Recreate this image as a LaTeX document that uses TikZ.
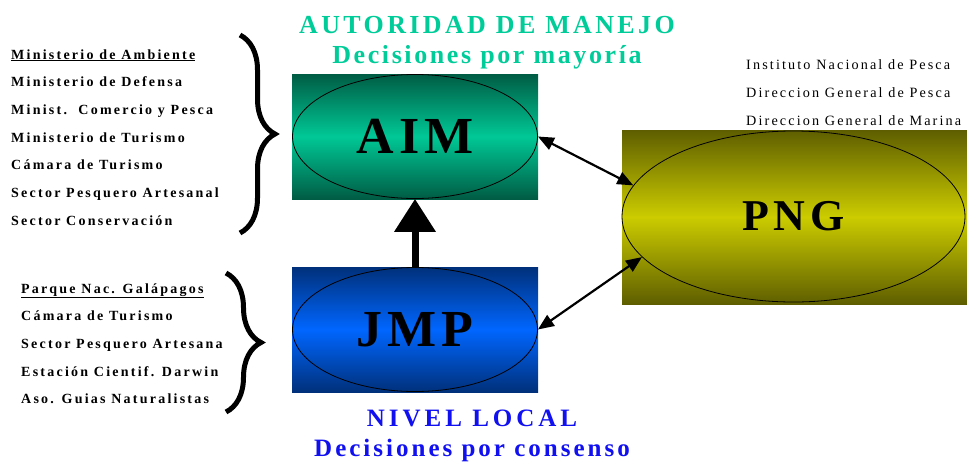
\documentclass[tikz,border=0pt]{standalone}
\usepackage{fontspec}
\setmainfont{Liberation Serif}
\newfontfamily\listfont[LetterSpace=16]{Liberation Serif}
\newfontfamily\instfont[LetterSpace=15]{Liberation Serif}
\newfontfamily\headfont[LetterSpace=13]{Liberation Serif}
\newfontfamily\subfont[LetterSpace=10]{Liberation Serif}
\newfontfamily\nivelfont[LetterSpace=16]{Liberation Serif}
\newfontfamily\consfont[LetterSpace=12]{Liberation Serif}
\newfontfamily\bigfont[LetterSpace=10]{Liberation Serif}
\usepackage{xcolor}
\usepackage{tikz}
\usetikzlibrary{shapes,calc}
\usetikzlibrary{positioning}
\usetikzlibrary{arrows.meta}
\usetikzlibrary{decorations.pathreplacing}

\definecolor{aimdark}{RGB}{0,92,68}
\definecolor{aimlight}{RGB}{0,200,150}
\definecolor{jmpdark}{RGB}{0,48,122}
\definecolor{jmplight}{RGB}{0,102,255}
\definecolor{pngdark}{RGB}{94,94,0}
\definecolor{pnglight}{RGB}{204,204,0}
\definecolor{titleteal}{RGB}{0,204,153}
\definecolor{titleblue}{RGB}{16,16,240}

\newcommand{\uline}[1]{\underline{#1}}

\begin{document}
\begin{tikzpicture}[x=1pt,y=-1pt,
	box/.style={rectangle,inner sep=0pt},
	oval/.style={ellipse,draw,line width=0.8pt,inner sep=0pt,font=\bigfont\bfseries\fontsize{52}{52}\selectfont},
	member/.style={anchor=base west,inner sep=0pt,font=\listfont\bfseries\fontsize{14}{16}\selectfont},
	inst/.style={anchor=base west,inner sep=0pt,font=\instfont\fontsize{14.2}{16}\selectfont},
	dbl/.style={{Triangle[length=16pt,width=13pt]}-{Triangle[length=16pt,width=13pt]},line width=2.2pt},
	bigbrace/.style={decorate,decoration={brace,amplitude=35pt},line width=5pt}]
	
	\useasboundingbox (0,0) rectangle (967,461);
	
	% boxes
	\node[box,minimum width=246pt,minimum height=125pt,top color=aimdark,bottom color=aimdark,middle color=aimlight] (aimbox) at (415,136.5) {};
	\node[box,minimum width=246pt,minimum height=125pt,top color=jmpdark,bottom color=jmpdark,middle color=jmplight] (jmpbox) at (415,329.5) {};
	\node[box,minimum width=345pt,minimum height=174pt,top color=pngdark,bottom color=pngdark,middle color=pnglight] (pngbox) at (794.5,217) {};
	
	% ellipses
	\node[oval,minimum width=245pt,minimum height=124pt] (aim) at (aimbox) {AIM};
	\node[oval,minimum width=245pt,minimum height=124pt] (jmp) at (jmpbox) {JMP};
	\node[oval,minimum width=343pt,minimum height=171pt,font=\bigfont\bfseries\fontsize{44}{44}\selectfont] (png) at (793.5,216.5) {PNG};
	
	% connections
	\draw[-{Triangle[length=33pt,width=40pt]},line width=7pt] (jmp.north) -- (aim.south);
	\draw[dbl] (aim.east) -- (png.169);
	\draw[dbl] (jmp.east) -- (png.195);
	
	% titles
	\node[anchor=base,inner sep=0pt,text=titleteal,font=\headfont\bfseries\fontsize{26}{28}\selectfont] (amtitle) at (487,33) {AUTORIDAD DE MANEJO};
	\node[anchor=base,inner sep=0pt,text=titleteal,font=\subfont\bfseries\fontsize{26}{28}\selectfont] (amsub) [below=30pt of amtitle.base,anchor=base] {Decisiones por mayoría};
	\node[anchor=base,inner sep=0pt,text=titleblue,font=\nivelfont\bfseries\fontsize{25}{27}\selectfont] (nltitle) at (472,426) {NIVEL LOCAL};
	\node[anchor=base,inner sep=0pt,text=titleblue,font=\consfont\bfseries\fontsize{25}{27}\selectfont] (nlsub) [below=30pt of nltitle.base,anchor=base] {Decisiones por consenso};
	
	% autoridad members
	\node[member] (m1) at (11,59) {\uline{Ministerio de Ambiente}};
	\node (m2) [below=27.7pt of m1.base west,member] {Ministerio de Defensa};
	\node (m3) [below=27.7pt of m2.base west,member] {Minist.\ \ Comercio y Pesca};
	\node (m4) [below=27.7pt of m3.base west,member] {Ministerio de Turismo};
	\node (m5) [below=27.7pt of m4.base west,member] {Cámara de Turismo};
	\node (m6) [below=27.7pt of m5.base west,member] {Sector Pesquero Artesanal};
	\node (m7) [below=27.7pt of m6.base west,member] {Sector Conservación};
	\draw[bigbrace] (240,35) -- (240,233);
	
	% local members
	\node[member] (l1) at (21,293) {\uline{Parque Nac. Galápagos}};
	\node (l2) [below=27.7pt of l1.base west,member] {Cámara de Turismo};
	\node (l3) [below=27.7pt of l2.base west,member] {Sector Pesquero Artesana};
	\node (l4) [below=27.7pt of l3.base west,member] {Estación Cientif. Darwin};
	\node (l5) [below=27.7pt of l4.base west,member] {Aso. Guias Naturalistas};
	\draw[bigbrace] (226,273) -- (226,412);
	
	% PNG members
	\node[inst] (p1) at (746,69) {Instituto Nacional de Pesca};
	\node (p2) [below=28pt of p1.base west,inst] {Direccion General de Pesca};
	\node (p3) [below=28pt of p2.base west,inst] {Direccion General de Marina};
	
\end{tikzpicture}
\end{document}
